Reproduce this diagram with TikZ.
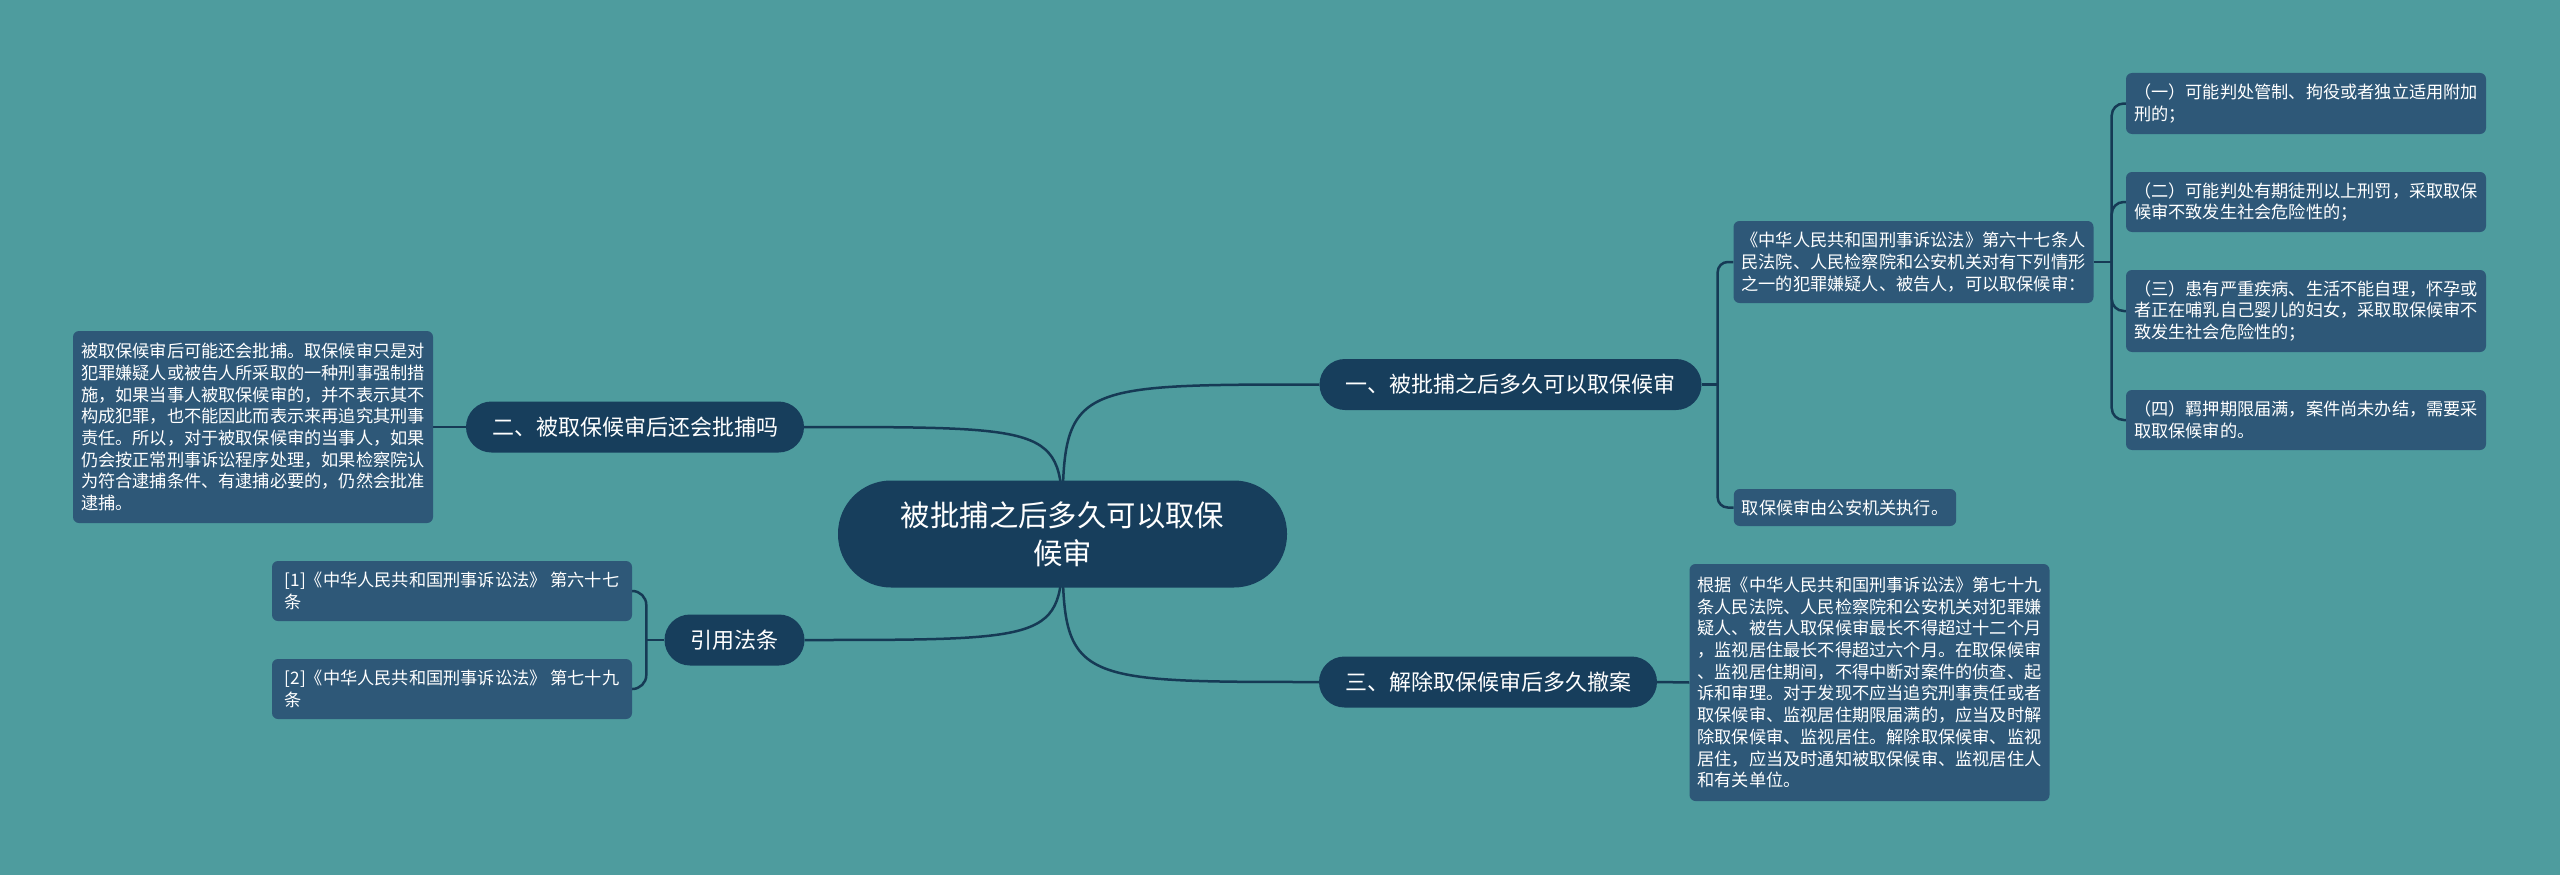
\documentclass[tikz,border=0pt]{standalone}
\usepackage{fontspec}
\newfontfamily\cjk{Noto Sans CJK SC}
\pgfdeclarelayer{edges}
\pgfsetlayers{edges,main}
\definecolor{bgc}{RGB}{78,156,158}
\definecolor{rootc}{RGB}{23,62,92}
\definecolor{leafc}{RGB}{46,88,120}
\definecolor{linec}{RGB}{22,58,85}
\begin{document}
\begin{tikzpicture}[x=1pt,y=-1pt,
  rootbox/.style={fill=rootc, text=white, rounded corners=53pt, minimum width=449pt, minimum height=107pt, align=center, inner sep=0pt, font=\cjk\fontsize{29.4}{38}\selectfont},
  branch/.style={fill=rootc, text=white, rounded corners=25.5pt, minimum height=51pt, inner xsep=26pt, inner ysep=0pt, font=\cjk\fontsize{22}{26}\selectfont},
  leaf/.style={fill=leafc, text=white, rounded corners=6pt, align=left, inner xsep=8pt, inner ysep=0pt, minimum width=360pt, font=\cjk\fontsize{17.2}{21.7}\selectfont},
  conn/.style={draw=linec, line width=2.5pt},
]
\useasboundingbox (0,0) rectangle (2560,875);
\begin{pgfonlayer}{edges}
\fill[bgc] (0,0) rectangle (2560,875);
\end{pgfonlayer}

\node[rootbox] (root) at (1062.5,534) {被批捕之后多久可以取保\\候审};

\node[branch] (b1) at (1510.5,384.5) {一、被批捕之后多久可以取保候审};
\node[branch] (b2) at (635,427) {二、被取保候审后还会批捕吗};
\node[branch] (b4) at (734.5,640) {引用法条};
\node[branch] (b3) at (1488,682) {三、解除取保候审后多久撤案};

\node[leaf, minimum height=192pt] (leaf2) at (253,427) {被取保候审后可能还会批捕。取保候审只是对\\犯罪嫌疑人或被告人所采取的一种刑事强制措\\施，如果当事人被取保候审的，并不表示其不\\构成犯罪，也不能因此而表示来再追究其刑事\\责任。所以，对于被取保候审的当事人，如果\\仍会按正常刑事诉讼程序处理，如果检察院认\\为符合逮捕条件、有逮捕必要的，仍然会批准\\逮捕。};

\node[leaf, minimum height=60pt] (ref1) at (452,591) {[1]《中华人民共和国刑事诉讼法》 第六十七\\条};
\node[leaf, minimum height=60pt] (ref2) at (452,689) {[2]《中华人民共和国刑事诉讼法》 第七十九\\条};

\node[leaf, minimum height=82pt] (law) at (1913.5,262) {《中华人民共和国刑事诉讼法》第六十七条人\\民法院、人民检察院和公安机关对有下列情形\\之一的犯罪嫌疑人、被告人，可以取保候审：};
\node[leaf, minimum width=222pt, minimum height=37pt] (exec) at (1845,507.5) {取保候审由公安机关执行。};

\node[leaf, minimum height=61pt] (c1) at (2306,103.5) {（一）可能判处管制、拘役或者独立适用附加\\刑的；};
\node[leaf, minimum height=60pt] (c2) at (2306,202) {（二）可能判处有期徒刑以上刑罚，采取取保\\候审不致发生社会危险性的；};
\node[leaf, minimum height=82pt] (c3) at (2306,311) {（三）患有严重疾病、生活不能自理，怀孕或\\者正在哺乳自己婴儿的妇女，采取取保候审不\\致发生社会危险性的；};
\node[leaf, minimum height=60pt] (c4) at (2306,420) {（四）羁押期限届满，案件尚未办结，需要采\\取取保候审的。};

\node[leaf, minimum height=237pt] (leaf3) at (1869.5,682.5) {根据《中华人民共和国刑事诉讼法》第七十九\\条人民法院、人民检察院和公安机关对犯罪嫌\\疑人、被告人取保候审最长不得超过十二个月\\，监视居住最长不得超过六个月。在取保候审\\、监视居住期间，不得中断对案件的侦查、起\\诉和审理。对于发现不应当追究刑事责任或者\\取保候审、监视居住期限届满的，应当及时解\\除取保候审、监视居住。解除取保候审、监视\\居住，应当及时通知被取保候审、监视居住人\\和有关单位。};

\coordinate (t1) at ([xshift=16pt]b1.east);
\coordinate (t2) at ([xshift=18pt]law.east);
\coordinate (t4) at ([xshift=-18pt]b4.west);

\begin{pgfonlayer}{edges}
\draw[conn] (root.center) .. controls (root.center |- b1.west) .. (b1.west);
\draw[conn] (root.center) .. controls (root.center |- b2.east) .. (b2.east);
\draw[conn] (root.center) .. controls (root.center |- b4.east) .. (b4.east);
\draw[conn] (root.center) .. controls (root.center |- b3.west) .. (b3.west);
\draw[conn] (b1.east) -- (t1);
\draw[conn, rounded corners=10pt] (law.west) -| (t1) |- (exec.west);
\draw[conn] (law.east) -- (t2);
\draw[conn, rounded corners=12pt] (c1.west) -| (t2) |- (c4.west);
\draw[conn, rounded corners=12pt] (c2.west) -| (t2);
\draw[conn, rounded corners=12pt] (c3.west) -| (t2);
\draw[conn] (b4.west) -- (t4);
\draw[conn, rounded corners=14pt] (ref1.east) -| (t4) |- (ref2.east);
\draw[conn] (b2.west) -- (leaf2.east);
\draw[conn] (b3.east) -- (leaf3.west);
\end{pgfonlayer}
\end{tikzpicture}
\end{document}
